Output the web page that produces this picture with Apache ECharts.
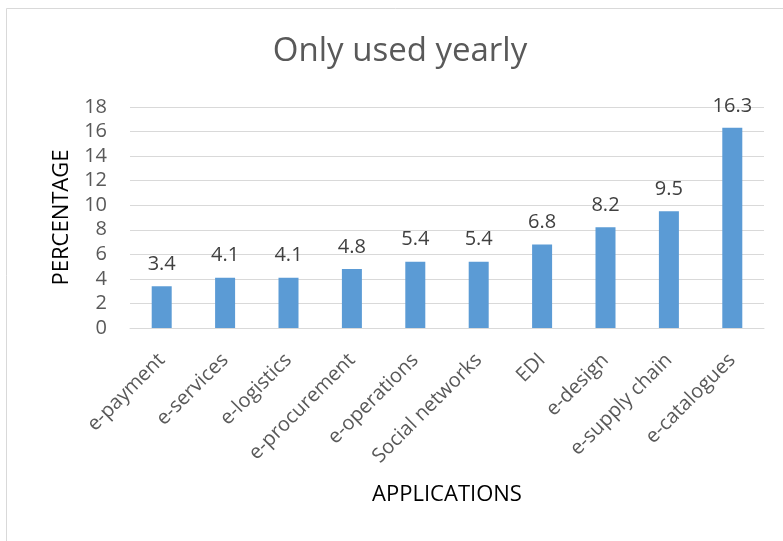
<!DOCTYPE html>
<html>
<head>
<meta charset="utf-8">
<script src="https://cdn.jsdelivr.net/npm/echarts@6/dist/echarts.min.js"></script>
<style>
  html, body { margin: 0; padding: 0; background: #ffffff; }
  #chart { width: 783px; height: 541px; }
</style>
</head>
<body>
<div id="chart"></div>
<script>
// Applications and the share of respondents using each only yearly
const categories = ['e-payment', 'e-services', 'e-logistics', 'e-procurement', 'e-operations',
  'Social networks', 'EDI', 'e-design', 'e-supply chain', 'e-catalogues'];
const percentages = [3.4, 4.1, 4.1, 4.8, 5.4, 5.4, 6.8, 8.2, 9.5, 16.3];
const yTicks = [0, 2, 4, 6, 8, 10, 12, 14, 16, 18];
const chartTitle = 'Only used yearly';

const fontFamily = '"Open Sans", "Noto Sans", sans-serif';
const chart = echarts.init(document.getElementById('chart'), null, { renderer: 'canvas' });

chart.setOption({
  animation: false,
  backgroundColor: '#ffffff',
  graphic: [
    {
      type: 'rect',
      shape: { x: 6.5, y: 8.5, width: 800, height: 560 },
      style: { fill: 'none', stroke: '#d9d9d9', lineWidth: 1 },
      silent: true
    },
    {
      type: 'text',
      x: 400,
      y: 52,
      style: {
        text: chartTitle,
        fontFamily,
        fontSize: 33,
        fill: '#595959',
        textAlign: 'center',
        textVerticalAlign: 'middle'
      },
      silent: true
    }
  ],
  grid: { left: 130, right: 19, top: 107, bottom: 213 },
  xAxis: {
    type: 'category',
    data: categories,
    name: 'APPLICATIONS',
    nameLocation: 'middle',
    nameGap: 156,
    nameTextStyle: { fontFamily, fontSize: 22, color: '#000000' },
    axisLine: { lineStyle: { color: '#d9d9d9', width: 1 } },
    axisTick: { show: false },
    axisLabel: {
      interval: 0,
      rotate: 45,
      margin: 29,
      fontFamily,
      fontSize: 20,
      color: '#595959'
    }
  },
  yAxis: {
    type: 'value',
    min: yTicks[0],
    max: yTicks[yTicks.length - 1],
    interval: yTicks[1] - yTicks[0],
    name: 'PERCENTAGE',
    nameLocation: 'middle',
    nameGap: 56,
    nameTextStyle: { fontFamily, fontSize: 22, color: '#000000' },
    axisLine: { show: false },
    axisTick: { show: false },
    axisLabel: { fontFamily, fontSize: 20, color: '#595959', margin: 23 },
    splitLine: { lineStyle: { color: '#d9d9d9', width: 1 } }
  },
  series: [{
    type: 'bar',
    data: percentages,
    barWidth: 20,
    itemStyle: { color: '#5b9bd5' },
    label: {
      show: true,
      position: 'top',
      distance: 12,
      fontFamily,
      fontSize: 20,
      color: '#404040'
    }
  }]
});
</script>
</body>
</html>
